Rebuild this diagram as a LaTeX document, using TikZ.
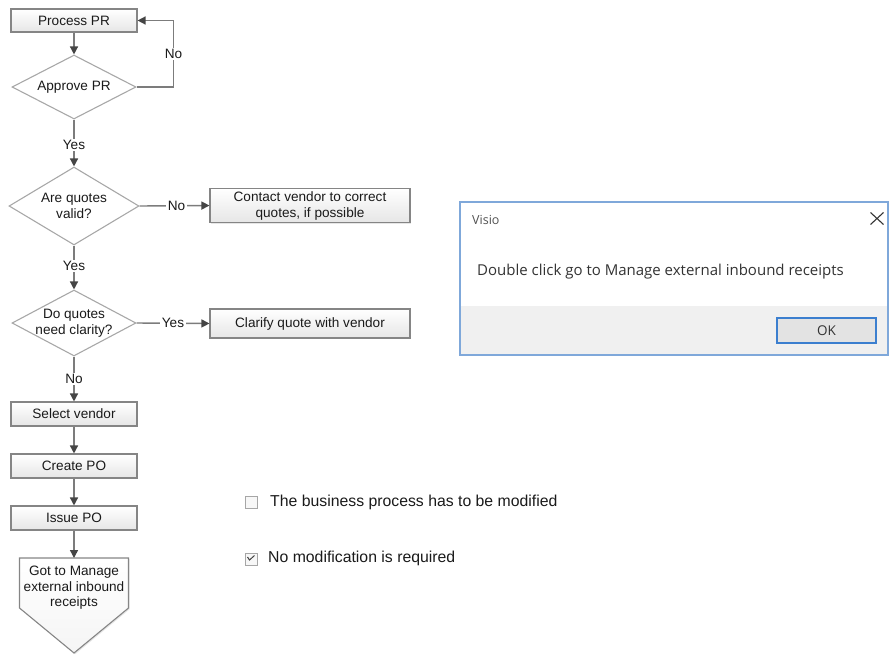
\documentclass[tikz,border=0pt]{standalone}
\usepackage{fontspec}
\setmainfont{Liberation Sans}
\newfontfamily\uifont{Open Sans}
\usetikzlibrary{arrows.meta,shapes.geometric,shadows}

\definecolor{boxborder}{HTML}{858585}
\definecolor{boxbottom}{HTML}{E6E6E6}
\definecolor{diaborder}{HTML}{A8A8A8}
\definecolor{linegray}{HTML}{7C7C7C}
\definecolor{tipgray}{HTML}{454545}
\definecolor{textdark}{HTML}{1A1A1A}
\definecolor{dlgborder}{HTML}{7FA8DA}
\definecolor{dlgfoot}{HTML}{F0F0F0}
\definecolor{dlgtext}{HTML}{333333}
\definecolor{okborder}{HTML}{3C7FCF}
\definecolor{okfill}{HTML}{E3E3E3}

\newcommand\flowfont{\fontsize{13.6}{16}\selectfont}
\newcommand\optfont{\fontsize{15.8}{18}\selectfont}
\newcommand\dlgfont{\uifont\fontsize{15}{17}\selectfont}

\begin{document}
\begin{tikzpicture}[x=1pt,y=-1pt,
  proc/.style={draw=boxborder, line width=1.1pt, top color=white, bottom color=boxbottom,
    minimum width=126pt, inner sep=0pt, align=center, font=\flowfont, text=textdark,
    drop shadow={shadow xshift=1.2pt, shadow yshift=-1.2pt, opacity=0.2}},
  decision/.style={diamond, draw=diaborder, line width=1.1pt, fill=white, inner sep=0pt},
  dtext/.style={align=center, font=\flowfont, text=textdark, inner sep=0pt},
  flow/.style={draw=linegray, line width=1.4pt, -{Triangle[length=8pt,width=8pt,color=tipgray]}},
  lbl/.style={fill=white, inner sep=1.5pt, font=\flowfont, text=textdark},
  chk/.style={draw=gray!70, line width=0.9pt, fill=gray!6},
  opt/.style={anchor=west, inner sep=0pt, font=\optfont, text=textdark}]

\useasboundingbox (0,0) rectangle (891,654);

% ---------- main flow ----------
\node[proc, minimum height=23pt] (p1) at (74,20.5) {Process PR};

\node[decision, minimum width=124pt, minimum height=64pt] (d1) at (74,87) {};
\node[dtext] (d1t) at (d1) {Approve PR};

\node[decision, minimum width=130pt, minimum height=78pt] (d2) at (74,206) {};
\node[dtext] (d2t) at (d2) {Are quotes\\valid?};

\node[proc, minimum width=200pt, minimum height=34pt] (c1) at (310,205.5)
  {Contact vendor to correct\\quotes, if possible};

\node[decision, minimum width=124pt, minimum height=66pt] (d3) at (74,323) {};
\node[dtext] (d3t) at (d3) {Do quotes\\need clarity?};

\node[proc, minimum width=200pt, minimum height=29pt] (c2) at (310,323.5)
  {Clarify quote with vendor};

\node[proc, minimum height=24pt] (s1) at (74,414) {Select vendor};
\node[proc, minimum height=24pt] (s2) at (74,466) {Create PO};
\node[proc, minimum height=24pt] (s3) at (74,518) {Issue PO};

% off-page reference
\coordinate (gtop) at (74,558);
\draw[draw=boxborder, line width=1.1pt, top color=white, bottom color=gray!8,
      drop shadow={shadow xshift=1.2pt, shadow yshift=-1.2pt, opacity=0.2}]
  (19.5,558) -- (128.5,558) -- (128.5,608) -- (74,653) -- (19.5,608) -- cycle;
\node[dtext, font=\fontsize{13.6}{15.6}\selectfont] (gt) at (74,588)
  {Got to Manage\\external inbound\\receipts};

% ---------- connectors ----------
\draw[flow] (p1) -- (d1);
\draw[flow] (d1.east) -- ++(37,0) |- node[lbl, pos=0.25] {No} (p1.east);
\draw[flow] (d1.south) -- node[lbl, pos=0.54] {Yes} (d2.north);
\draw[flow] (d2.east) -- node[lbl, pos=0.53] {No} (c1.west);
\draw[flow] (d2.south) -- node[lbl, pos=0.47] {Yes} (d3.north);
\draw[flow] (d3.east) -- node[lbl, pos=0.5] {Yes} (c2.west);
\draw[flow] (d3.south) -- node[lbl, pos=0.5] {No} (s1.north);
\draw[flow] (s1) -- (s2);
\draw[flow] (s2) -- (s3);
\draw[flow] (s3.south) -- (gtop);

% ---------- message box ----------
\draw[draw=dlgborder, line width=1.2pt, fill=white] (460,202) rectangle (888,355);
\fill[dlgfoot] (460.6,306) rectangle (887.4,354.4);
\node[anchor=west, inner sep=0pt, font=\uifont\fontsize{12.5}{14}\selectfont, text=dlgtext!85]
  (title) at (472,220) {Visio};
\draw[dlgtext, line width=1.1pt] (870.5,212.5) -- (883.5,224.5) (870.5,224.5) -- (883.5,212.5);
\node[anchor=west, inner sep=0pt, font=\dlgfont, text=dlgtext] (msg) at (477,272)
  {Double click go to Manage external inbound receipts};
\node[draw=okborder, line width=1.5pt, fill=okfill, minimum width=99pt, minimum height=25pt,
      inner sep=0pt, font=\uifont\fontsize{13.5}{15}\selectfont, text=dlgtext] (ok) at (826.5,330.5) {OK};

% ---------- options ----------
\draw[chk] (245,496) rectangle (257,508);
\node[opt] (o1) at (270,502) {The business process has to be modified};
\draw[chk] (245,553) rectangle (257,565);
\draw[tipgray, line width=1pt] (247.5,557) -- (249.5,560) -- (254.5,555.5);
\node[opt] (o2) at (268,558) {No modification is required};

\end{tikzpicture}
\end{document}
